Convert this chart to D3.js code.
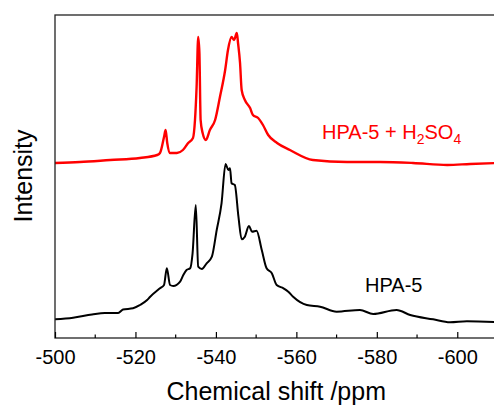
<!DOCTYPE html>
<html>
<head>
<meta charset="utf-8">
<script src="https://cdn.jsdelivr.net/npm/d3@7/dist/d3.min.js"></script>
<style>
  html, body { margin: 0; padding: 0; background: #fff; overflow: hidden; }
  svg { display: block; font-family: Arial, "Liberation Sans", sans-serif; }
</style>
</head>
<body>
<div id="chart"></div>
<script>
// 29Si-style NMR spectra (intensity in arbitrary units, traces offset)
const xTicks = [-500, -520, -540, -560, -580, -600];

// HPA-5 + H2SO4 (red, upper trace)
const acidShift = [-500, -506.2, -513.7, -521.1, -525.4, -526.1, -527.1, -527.5, -527.9, -528.6,
  -530.3, -531.8, -533.1, -534.3, -534.8, -535.2, -535.6, -535.9, -536.2, -536.7,
  -537.5, -538.5, -539.8, -541.0, -542.3, -543.0, -543.9, -544.5, -545.2, -545.5,
  -546.0, -546.4, -547.2, -548.5, -549.2, -550.5, -551.7, -553.0, -555.2, -558.4,
  -564.1, -572.6, -580.8, -589.0, -597.5, -603.2, -610];
const acidInt = [175, 176, 178, 180, 183, 185, 201, 208, 195, 185,
  185, 188, 195, 200, 218, 251, 301, 285, 218, 205,
  198, 208, 218, 241, 268, 288, 301, 298, 305, 295,
  275, 248, 238, 230, 223, 220, 213, 203, 195, 188,
  178, 176, 176, 175, 173, 174, 175];

// HPA-5 (black, lower trace)
const baseShift = [-500, -504.5, -509.2, -512.4, -515.7, -516.9, -519.4, -521.1, -522.9, -523.6,
  -526.1, -527.1, -527.8, -528.6, -529.4, -531.1, -531.9, -532.7, -533.6, -534.2,
  -535.0, -535.6, -536.5, -537.7, -539.0, -540.2, -541.4, -542.4, -543.1, -543.5,
  -543.9, -544.7, -545.6, -546.4, -547.2, -548.2, -549.0, -550.1, -551.4, -552.6,
  -553.9, -555.1, -556.8, -558.0, -559.2, -562.6, -565.9, -570.0, -575.8, -579.1,
  -584.9, -588.3, -594.0, -598.2, -602.4, -610];
const baseInt = [18.7, 20.3, 23.5, 25, 25, 28.5, 29.7, 33, 38, 41,
  49.7, 53, 69.7, 53, 52, 56.3, 63, 68, 69.7, 84.7,
  133, 71.3, 69, 74.7, 81.3, 108, 134.7, 174, 168, 169.7,
  154.7, 153, 121.3, 98.7, 101.3, 112, 106.3, 107.3, 88, 69.7,
  64.7, 53, 49.7, 46.3, 41.3, 33, 31.3, 26.3, 28, 24,
  28, 23, 18.7, 15.7, 16.7, 16];

const width = 494, height = 405;
const margin = { top: 15, right: -3.5, bottom: 67, left: 55 };
const innerW = width - margin.left - margin.right;
const innerH = height - margin.top - margin.bottom;

const svg = d3.select('#chart').append('svg')
  .attr('width', width)
  .attr('height', height);

const g = svg.append('g').attr('transform', `translate(${margin.left},${margin.top})`);

const x = d3.scaleLinear().domain([-500, -610]).range([0, innerW]);
const y = d3.scaleLinear().domain([0, 323]).range([innerH, 0]);

g.append('clipPath').attr('id', 'plot-clip')
  .append('rect').attr('width', innerW).attr('height', innerH);

const line = d3.line()
  .x((d) => x(d[0]))
  .y((d) => y(d[1]))
  .curve(d3.curveMonotoneX);

g.append('path')
  .datum(d3.zip(baseShift, baseInt))
  .attr('clip-path', 'url(#plot-clip)')
  .attr('fill', 'none')
  .attr('stroke', '#000')
  .attr('stroke-width', 2)
  .attr('stroke-linejoin', 'round')
  .attr('d', line);

g.append('path')
  .datum(d3.zip(acidShift, acidInt))
  .attr('clip-path', 'url(#plot-clip)')
  .attr('fill', 'none')
  .attr('stroke', '#ff0000')
  .attr('stroke-width', 2.4)
  .attr('stroke-linejoin', 'round')
  .attr('d', line);

// frame
g.append('rect')
  .attr('width', innerW).attr('height', innerH)
  .attr('fill', 'none').attr('stroke', '#222').attr('stroke-width', 1.3);

// bottom axis, ticks pointing inward
const xAxis = g.append('g')
  .attr('transform', `translate(0,${innerH})`)
  .call(d3.axisBottom(x).tickValues(xTicks).tickSizeInner(-6).tickSizeOuter(0)
    .tickPadding(12).tickFormat((d) => String(d)));
xAxis.select('.domain').remove();
xAxis.selectAll('line').attr('stroke', '#000').attr('stroke-width', 1.2);
xAxis.selectAll('text').attr('font-size', 20).attr('fill', '#000')
  .attr('font-family', 'Arial, "Liberation Sans", sans-serif');

const minor = d3.range(-510, -611, -20);
g.append('g').selectAll('line').data(minor).join('line')
  .attr('x1', (d) => x(d)).attr('x2', (d) => x(d))
  .attr('y1', innerH).attr('y2', innerH - 3.5)
  .attr('stroke', '#000').attr('stroke-width', 1.2);

// axis titles
svg.append('text')
  .attr('x', margin.left + innerW / 2).attr('y', 400)
  .attr('text-anchor', 'middle').attr('font-size', 25)
  .text('Chemical shift /ppm');

svg.append('text')
  .attr('transform', 'translate(32,176) rotate(-90)')
  .attr('text-anchor', 'middle').attr('font-size', 25)
  .text('Intensity');

// trace labels
const lbl = svg.append('text')
  .attr('x', 322).attr('y', 139)
  .attr('font-size', 20).attr('fill', '#ff0000');
lbl.append('tspan').text('HPA-5 + H');
lbl.append('tspan').attr('font-size', 14).attr('dy', 5).text('2');
lbl.append('tspan').attr('dy', -5).text('SO');
lbl.append('tspan').attr('font-size', 14).attr('dy', 5).text('4');

svg.append('text')
  .attr('x', 365).attr('y', 292)
  .attr('font-size', 20).attr('fill', '#000')
  .text('HPA-5');
</script>
</body>
</html>
